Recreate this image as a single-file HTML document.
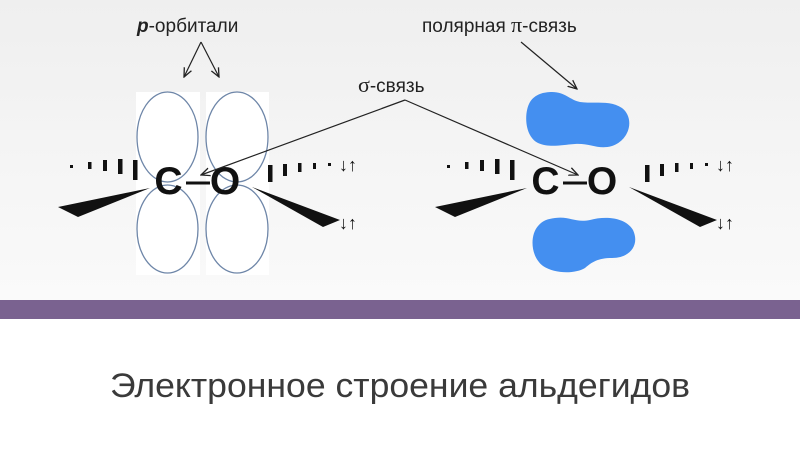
<!DOCTYPE html>
<html><head><meta charset="utf-8"><style>
html,body{margin:0;padding:0;width:800px;height:450px;overflow:hidden;background:#fff}
svg{display:block}
</style></head><body>
<svg width="800" height="450" viewBox="0 0 800 450" xmlns="http://www.w3.org/2000/svg" font-family="Liberation Sans, sans-serif">
<defs>
<linearGradient id="bg" x1="0" y1="0" x2="0" y2="1"><stop offset="0" stop-color="#efefef"/><stop offset="1" stop-color="#fafafa"/></linearGradient>
<marker id="ar" markerWidth="10" markerHeight="10" refX="9" refY="5" orient="auto" markerUnits="userSpaceOnUse"><path d="M0,1 L9,5 L0,9" fill="none" stroke="#222" stroke-width="1.3"/></marker>
<g id="mol">
<rect x="70" y="165" width="3" height="3" fill="#111"/>
<rect x="88" y="162" width="3.5" height="7" fill="#111"/>
<rect x="103" y="160" width="4" height="11" fill="#111"/>
<rect x="118" y="159" width="4.5" height="15" fill="#111"/>
<rect x="133" y="160" width="4.5" height="20" fill="#111"/>
<rect x="268" y="165" width="4.5" height="17" fill="#111"/>
<rect x="283" y="164" width="4" height="12" fill="#111"/>
<rect x="298" y="163" width="3.5" height="9" fill="#111"/>
<rect x="313" y="163" width="3" height="6" fill="#111"/>
<rect x="328" y="163" width="3" height="3" fill="#111"/>
<polygon points="150,188 58,207 78,217" fill="#111"/>
<polygon points="252,187 340,220 323,227" fill="#111"/>
<text x="339" y="171" font-size="18" font-weight="bold" fill="#111">↓↑</text>
<text x="339" y="229" font-size="18" font-weight="bold" fill="#111">↓↑</text>
<text x="168.5" y="194" font-size="39" font-weight="bold" text-anchor="middle" fill="#111">C</text>
<text x="225" y="194" font-size="39" font-weight="bold" text-anchor="middle" fill="#111">O</text>
<line x1="186" y1="183" x2="210" y2="183" stroke="#111" stroke-width="3"/>
</g>
</defs>
<rect width="800" height="300" fill="url(#bg)"/>
<rect y="300" width="800" height="19" fill="#7a6290"/>
<rect y="319" width="800" height="131" fill="#fff"/>
<rect x="136" y="92" width="64" height="183" fill="#fff"/>
<rect x="206" y="92" width="63" height="183" fill="#fff"/>
<g fill="#fff" stroke="#6e86a8" stroke-width="1.3">
<ellipse cx="167.5" cy="137" rx="30.5" ry="45"/>
<ellipse cx="167.5" cy="229" rx="30.5" ry="44"/>
<ellipse cx="237" cy="137" rx="31" ry="45"/>
<ellipse cx="237" cy="229" rx="31" ry="44"/>
</g>
<use href="#mol"/>
<path d="M552,92 C565,92 570,100 580,102 C595,104 610,100 622,108 C635,118 630,140 612,146 C598,150 590,143 575,144 C560,145 550,148 538,143 C524,136 524,112 530,102 C535,94 544,92 552,92 Z" fill="#448ff0"/>
<path d="M555,218 C570,216 575,223 590,220 C605,216 625,217 633,230 C640,245 630,258 612,258 C598,258 592,262 585,268 C575,274 555,274 543,266 C530,256 530,235 538,226 C543,220 548,219 555,218 Z" fill="#448ff0"/>
<g transform="translate(377,0)"><use href="#mol"/></g>
<text x="137" y="32" font-size="19" fill="#222"><tspan font-weight="bold" font-style="italic">p</tspan>-орбитали</text>
<text x="422" y="32" font-size="19" fill="#222">полярная <tspan font-family="Liberation Serif, serif" font-size="22">π</tspan>-связь</text>
<text x="358" y="92" font-size="19" fill="#222"><tspan font-family="Liberation Serif, serif" font-size="22">σ</tspan>-связь</text>
<g stroke="#222" stroke-width="1.2" fill="none">
<line x1="201" y1="42" x2="184" y2="77" marker-end="url(#ar)"/>
<line x1="201" y1="42" x2="219" y2="77" marker-end="url(#ar)"/>
<line x1="521" y1="42" x2="577" y2="89" marker-end="url(#ar)"/>
<line x1="405" y1="100" x2="201" y2="175" marker-end="url(#ar)"/>
<line x1="405" y1="100" x2="578" y2="175" marker-end="url(#ar)"/>
</g>
<text x="110" y="397" font-size="34" fill="#3a3a3a" textLength="580" lengthAdjust="spacingAndGlyphs">Электронное строение альдегидов</text>
</svg>
</body></html>
